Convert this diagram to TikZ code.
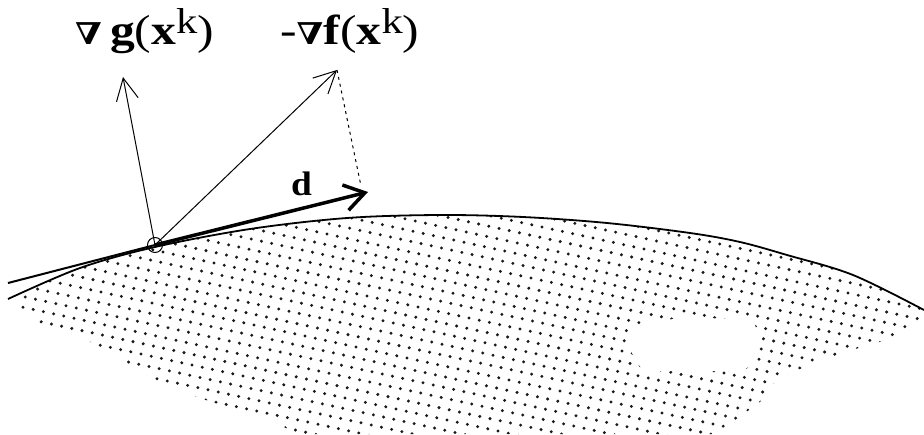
\documentclass[tikz,border=0pt]{standalone}
\usepackage{fontspec}
\setmainfont{Liberation Serif}
\newfontfamily\nablafont{DejaVu Serif}
\usetikzlibrary{arrows.meta}
\newcommand{\nb}{{\nablafont\bfseries\fontsize{30}{30}\selectfont ∇}}
\newcommand{\supk}{\raisebox{11pt}{\fontsize{36}{36}\selectfont k}}
\newcommand{\regionpath}{plot[smooth, tension=0.55] coordinates {(8,299) (80,268) (155,247) (250,229) (347,218) (440,215) (523,217) (607,223) (690,233) (740,242) (787,255) (853,275) (924,310)}
  -- (924,316) -- (893,338) -- (845,352) -- (792,372) -- (776,380) -- (765,398) -- (733,422) -- (712,434)
  -- (295,434) -- (270,418) -- (230,408) -- (167,387) -- (122,360) -- (73,332) -- (38,323) -- (20,307) -- cycle}
\tikzset{
  thinarrow/.style={line width=1pt, -{Straight Barb[length=22pt,width=22pt]}},
  thickarrow/.style={line width=3.5pt, -{Straight Barb[length=20pt,width=26pt]}},
  boundary/.style={line width=1.8pt},
  tangent/.style={line width=2pt},
  lbl/.style={font=\fontsize{42}{44}\selectfont, xscale=1.18, inner sep=0pt, anchor=base west},
  dlbl/.style={font=\bfseries\fontsize{34}{34}\selectfont, xscale=1.1, inner sep=0pt, anchor=base west},
  projline/.style={line width=1pt, dash pattern=on 3pt off 4pt},
  stipple/.style={fill=black!90},
}
\begin{document}
\begin{tikzpicture}[x=1pt,y=-1pt]
\useasboundingbox (0,0) rectangle (924,434);
% shaded feasible region (stippled)
\begin{scope}
\clip \regionpath;
\foreach \i in {-6,...,96}{
  \pgfmathtruncatemacro\jlo{floor((205-\i*2.2)/10.2)}
  \pgfmathtruncatemacro\jhi{\jlo+24}
  \foreach \j in {\jlo,...,\jhi}{
    \fill[stipple] (\i*10.2-\j*2.2+3, \j*10.2+\i*2.2+4) circle (1.65);
  }
}
\end{scope}
% hole
\fill[white, rounded corners=8pt] (623,337) -- (640,324) -- (670,319) -- (753,318) -- (758,335) -- (757,362) -- (742,371) -- (642,371) -- cycle;
% boundary curve
\draw[boundary] plot[smooth, tension=0.55] coordinates {(8,299) (80,268) (155,247) (250,229) (347,218) (440,215) (523,217) (607,223) (690,233) (740,242) (787,255) (853,275) (924,310)};
% points
\coordinate (P) at (155,245);
\coordinate (G) at (123,77);
\coordinate (F) at (337,70);
\coordinate (D) at (368,192);
\coordinate (L) at (8,283);
\coordinate (Dp) at (361,186);
\draw[tangent] (L) -- (P);
\draw[thinarrow] (P) -- (G);
\draw[thinarrow] (P) -- (F);
\draw[projline] (F) -- (Dp);
\draw[thickarrow] (P) -- (D);
\draw[line width=1pt] (P) circle (7.5);
% labels
\node[lbl] (gl) at (75,44) {\nb\,\textbf{g}(\textbf{x}\supk)};
\node[lbl] (fl) at (280,44) {-\nb\textbf{f}(\textbf{x}\supk)};
\node[dlbl] (dl) at (291,195) {d};
\end{tikzpicture}
\end{document}
